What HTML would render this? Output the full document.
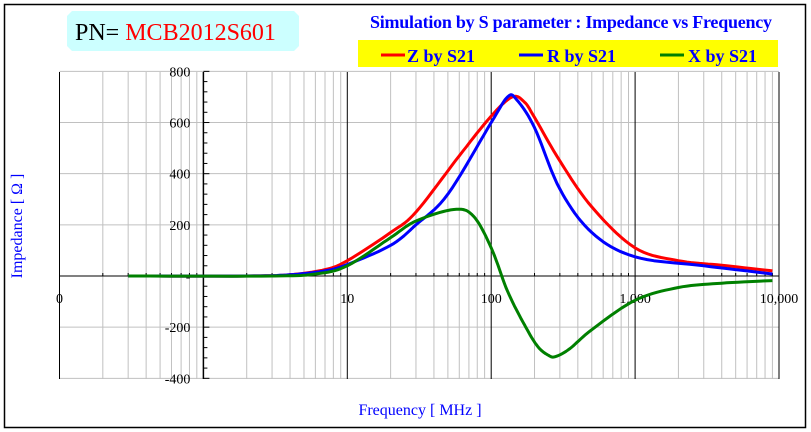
<!DOCTYPE html>
<html><head><meta charset="utf-8"><style>
body{margin:0;background:#fff;}
svg{display:block;font-family:"Liberation Serif",serif;}
</style></head><body>
<svg id="s" width="811" height="432" xmlns="http://www.w3.org/2000/svg">
<rect x="4.5" y="4.5" width="801" height="423" fill="#fff" stroke="#000" stroke-width="1.5"/>
<polygon points="72,11 294,11 299,16 299,46 294,51 72,51 67,46 67,16" fill="#ccffff"/>
<text x="75" y="40" font-size="24" fill="#000">PN= <tspan fill="#ff0000">MCB2012S601</tspan></text>
<text x="370" y="28" font-size="18" font-weight="bold" fill="#0000ff" textLength="402">Simulation by S parameter : Impedance vs Frequency</text>
<rect x="358" y="40" width="420" height="27" fill="#ffff00"/>
<line x1="381" y1="55" x2="405" y2="55" stroke="#ff0000" stroke-width="3"/>
<text x="407" y="62" font-size="18" font-weight="bold" fill="#0000ff">Z by S21</text>
<line x1="519" y1="55" x2="543" y2="55" stroke="#0000ff" stroke-width="3"/>
<text x="547" y="62" font-size="18" font-weight="bold" fill="#0000ff">R by S21</text>
<line x1="660" y1="55" x2="684" y2="55" stroke="#008000" stroke-width="3"/>
<text x="688" y="62" font-size="18" font-weight="bold" fill="#0000ff">X by S21</text>
<g id="grid"></g>
<g id="curves" fill="none" stroke-width="3" stroke-linejoin="round"></g>
<text x="420" y="415" font-size="16" fill="#0000ff" text-anchor="middle">Frequency [ MHz ]</text>
<text transform="translate(22,226) rotate(-90)" font-size="16" fill="#0000ff" text-anchor="middle">Impedance [ Ω ]</text>
</svg>
<script>
const L=59.5,R=779,T=72,B=379,Z0=276;
const X=f=>L+(Math.log10(f)+1)*143.9;
const Y=v=>Z0-v*0.2558;
let g='';
for(let d=-1;d<4;d++)for(let k=2;k<=9;k++){const x=X(k*Math.pow(10,d));g+=`<line x1="${x}" y1="${T}" x2="${x}" y2="${B}" stroke="#c0c0c0"/>`;}
for(let v=-400;v<=800;v+=200){if(v==0)continue;g+=`<line x1="${L}" y1="${Y(v)}" x2="${R}" y2="${Y(v)}" stroke="#c0c0c0"/>`;}
[0.1,10,100,1000,10000].forEach(f=>{const x=X(f);g+=`<line x1="${x}" y1="${T}" x2="${x}" y2="${B}" stroke="#000"/>`;});
g+=`<line x1="${L}" y1="${Z0}" x2="${R}" y2="${Z0}" stroke="#000"/>`;
for(let d=-1;d<4;d++)for(let k=2;k<=9;k++){const x=X(k*Math.pow(10,d));g+=`<line x1="${x}" y1="${Z0}" x2="${x}" y2="${Z0-3}" stroke="#000"/>`;}
const ax=X(1);g+=`<line x1="${ax}" y1="${T}" x2="${ax}" y2="${B}" stroke="#000" stroke-width="1.5"/>`;
for(let v=-400;v<=800;v+=40){const y=Y(v);g+=`<line x1="${ax}" y1="${y}" x2="${ax+(v%200==0?6:4)}" y2="${y}" stroke="#000"/>`;}
for(let v=-400;v<=800;v+=200){g+=`<text x="${ax-13}" y="${Y(v)+5}" font-size="14" text-anchor="end">${v==0?'-':v}</text>`;}
[[0.1,'0'],[10,'10'],[100,'100'],[1000,'1,000'],[10000,'10,000']].forEach(([f,t])=>{g+=`<text x="${X(f)}" y="${Z0+27}" font-size="14" text-anchor="middle">${t}</text>`;});
document.getElementById('grid').innerHTML=g;
function path(pts,c){
 let d='';pts.forEach((p,i)=>{d+=(i?'L':'M')+X(p[0]).toFixed(1)+','+Y(p[1]).toFixed(1);});
 return `<path d="${d}" stroke="${c}"/>`;}
function smooth(pts){const out=[];for(let i=0;i<pts.length-1;i++){const p0=pts[Math.max(0,i-1)],p1=pts[i],p2=pts[i+1],p3=pts[Math.min(pts.length-1,i+2)];
 for(let t=0;t<1;t+=0.1){const t2=t*t,t3=t2*t;const cr=(a,b,c,d)=>0.5*(2*b+(-a+c)*t+(2*a-5*b+4*c-d)*t2+(-a+3*b-3*c+d)*t3);
 const lx=cr(Math.log10(p0[0]),Math.log10(p1[0]),Math.log10(p2[0]),Math.log10(p3[0]));out.push([Math.pow(10,lx),cr(p0[1],p1[1],p2[1],p3[1])]);}}
 out.push(pts[pts.length-1]);return out;}
const Zp=[[0.3,0],[2,0],[4,5],[7,25],[10,60],[20,170],[30,250],[60,470],[100,625],[140,700],[170,680],[200,620],[300,450],[500,270],[1000,110],[2000,60],[4000,42],[9000,20]];
const Rp=[[0.3,0],[2,0],[4,5],[7,20],[10,45],[20,120],[30,200],[50,320],[100,600],[130,700],[150,690],[200,580],[300,340],[500,170],[1000,75],[3000,40],[9000,8]];
const Xp=[[0.3,0],[3,0],[6,8],[10,40],[20,150],[30,215],[55,260],[75,235],[100,110],[130,-60],[170,-190],[210,-275],[250,-310],[280,-315],[350,-285],[500,-210],[1000,-95],[2000,-45],[4000,-28],[9000,-18]];
document.getElementById('curves').innerHTML=path(smooth(Zp),'#ff0000')+path(smooth(Rp),'#0000ff')+path(smooth(Xp),'#008000');
</script>
</body></html>
